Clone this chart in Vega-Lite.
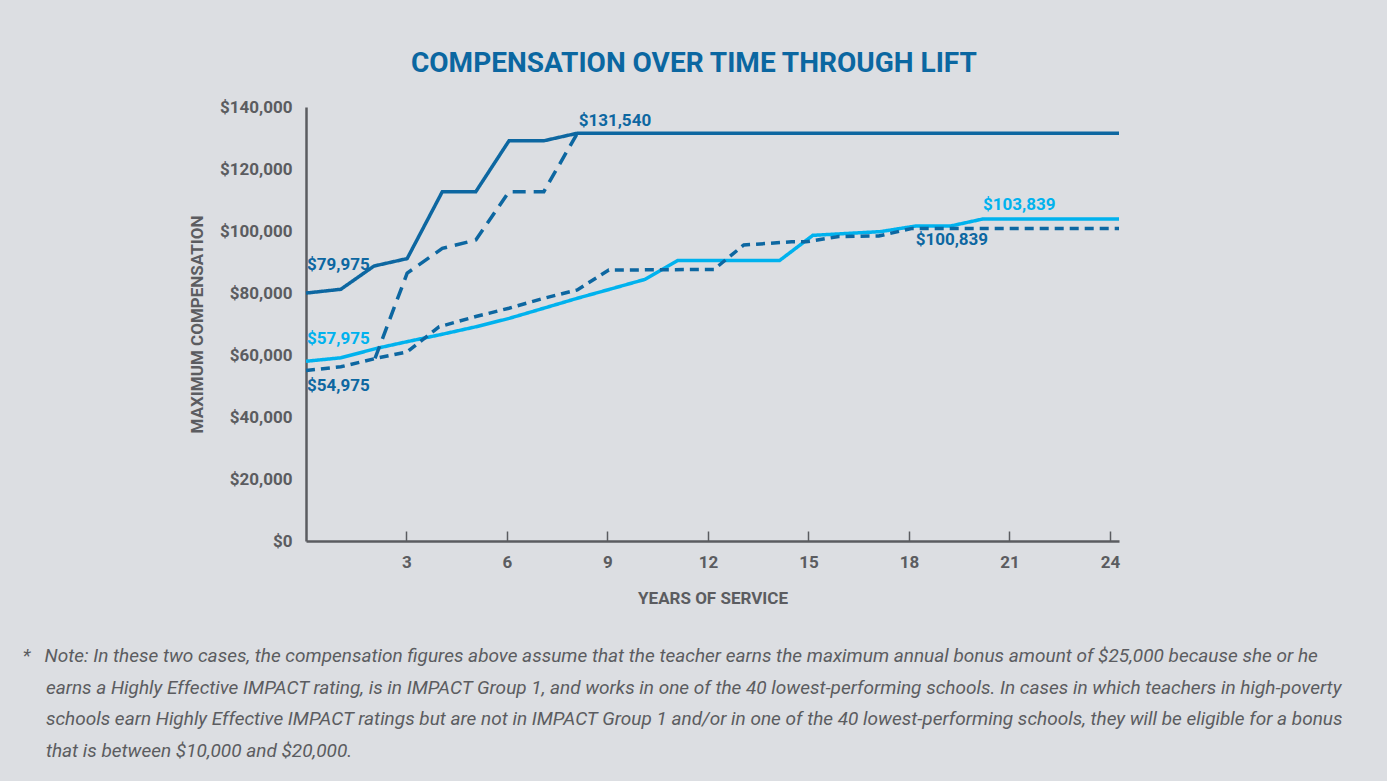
{
  "$schema": "https://vega.github.io/schema/vega-lite/v6.json",
  "background": "#dcdee2",
  "padding": {"left": 22, "top": 50, "right": 80, "bottom": 30},
  "title": {
    "text": "COMPENSATION OVER TIME THROUGH LIFT",
    "anchor": "middle",
    "fontSize": 28,
    "fontWeight": "bold",
    "font": "Roboto, Liberation Sans, sans-serif",
    "color": "#0b67a1",
    "offset": 20,
    "dx": 11
  },
  "datasets": {
    "lines": [
      {"s": "A", "year": 0, "v": 79975},
      {"s": "A", "year": 1.04, "v": 81200},
      {"s": "A", "year": 2.03, "v": 88700},
      {"s": "A", "year": 3.02, "v": 91100},
      {"s": "A", "year": 4.07, "v": 112700},
      {"s": "A", "year": 5.07, "v": 112700},
      {"s": "A", "year": 6.06, "v": 129100},
      {"s": "A", "year": 7.1, "v": 129100},
      {"s": "A", "year": 8.1, "v": 131540},
      {"s": "A", "year": 24.27, "v": 131540},
      {"s": "B", "year": 2.06, "v": 58900},
      {"s": "B", "year": 3.02, "v": 86400},
      {"s": "B", "year": 4.07, "v": 94400},
      {"s": "B", "year": 5.07, "v": 97100},
      {"s": "B", "year": 6.06, "v": 112700},
      {"s": "B", "year": 7.1, "v": 112700},
      {"s": "B", "year": 8.1, "v": 131540},
      {"s": "C", "year": 0, "v": 54975},
      {"s": "C", "year": 1.04, "v": 56200},
      {"s": "C", "year": 2.08, "v": 58900},
      {"s": "C", "year": 3.02, "v": 61000},
      {"s": "C", "year": 3.97, "v": 69100},
      {"s": "C", "year": 5.07, "v": 72400},
      {"s": "C", "year": 6.06, "v": 75100},
      {"s": "C", "year": 7.1, "v": 78300},
      {"s": "C", "year": 8.1, "v": 81000},
      {"s": "C", "year": 9.04, "v": 87400},
      {"s": "C", "year": 12.18, "v": 87600},
      {"s": "C", "year": 13.07, "v": 95500},
      {"s": "C", "year": 14.5, "v": 96500},
      {"s": "C", "year": 14.92, "v": 96500},
      {"s": "C", "year": 15.9, "v": 98200},
      {"s": "C", "year": 17.1, "v": 98400},
      {"s": "C", "year": 18.1, "v": 100839},
      {"s": "C", "year": 24.27, "v": 100839},
      {"s": "D", "year": 0, "v": 57975},
      {"s": "D", "year": 1.04, "v": 59100},
      {"s": "D", "year": 2.13, "v": 62200},
      {"s": "D", "year": 3.02, "v": 64300},
      {"s": "D", "year": 4.07, "v": 66700},
      {"s": "D", "year": 5.07, "v": 69100},
      {"s": "D", "year": 6.06, "v": 71800},
      {"s": "D", "year": 7.1, "v": 75100},
      {"s": "D", "year": 8.1, "v": 78300},
      {"s": "D", "year": 9.1, "v": 81300},
      {"s": "D", "year": 10.12, "v": 84400},
      {"s": "D", "year": 11.1, "v": 90500},
      {"s": "D", "year": 14.14, "v": 90500},
      {"s": "D", "year": 15.13, "v": 98600},
      {"s": "D", "year": 17.15, "v": 99800},
      {"s": "D", "year": 18.2, "v": 101600},
      {"s": "D", "year": 19.24, "v": 101600},
      {"s": "D", "year": 20.19, "v": 103839},
      {"s": "D", "year": 24.27, "v": 103839}
    ],
    "labels": [
      {"t": "$79,975", "year": 0.03, "v": 89000, "s": "A"},
      {"t": "$57,975", "year": 0.03, "v": 65200, "s": "D"},
      {"t": "$54,975", "year": 0.03, "v": 50000, "s": "C"},
      {"t": "$131,540", "year": 8.14, "v": 135400, "s": "A"},
      {"t": "$103,839", "year": 20.21, "v": 108400, "s": "D"},
      {"t": "$100,839", "year": 18.2, "v": 97100, "s": "C"}
    ]
  },
  "vconcat": [
    {
      "width": 813,
      "height": 434,
      "title": {
        "text": [
          "*\u00a0\u00a0\u00a0Note: In these two cases, the compensation figures above assume that the teacher earns the maximum annual bonus amount of $25,000 because she or he",
          "\u200b\u00a0\u00a0\u00a0\u00a0\u00a0earns a Highly Effective IMPACT rating, is in IMPACT Group 1, and works in one of the 40 lowest-performing schools. In cases in which teachers in high-poverty",
          "\u200b\u00a0\u00a0\u00a0\u00a0\u00a0schools earn Highly Effective IMPACT ratings but are not in IMPACT Group 1 and/or in one of the 40 lowest-performing schools, they will be eligible for a bonus",
          "\u200b\u00a0\u00a0\u00a0\u00a0\u00a0that is between $10,000 and $20,000."
        ],
        "orient": "bottom",
        "anchor": "start",
        "align": "left",
        "dx": -166,
        "offset": 41,
        "fontSize": 19,
        "fontStyle": "italic",
        "fontWeight": "normal",
        "font": "Roboto, Liberation Sans, sans-serif",
        "color": "#5b5c60",
        "lineHeight": 31.7
      },
      "layer": [
        {
          "data": {"name": "lines"},
          "transform": [{"filter": "datum.s === 'D'"}],
          "mark": {"type": "line", "strokeWidth": 3.5},
          "encoding": {
            "x": {"field": "year", "type": "quantitative"},
            "y": {"field": "v", "type": "quantitative"},
            "color": {"field": "s", "type": "nominal"},
            "strokeDash": {"field": "s", "type": "nominal"}
          }
        },
        {
          "data": {"name": "lines"},
          "transform": [{"filter": "datum.s !== 'D'"}],
          "mark": {"type": "line", "strokeWidth": 3.5},
          "encoding": {
            "x": {"field": "year", "type": "quantitative"},
            "y": {"field": "v", "type": "quantitative"},
            "color": {"field": "s", "type": "nominal"},
            "strokeDash": {"field": "s", "type": "nominal"}
          }
        },
        {
          "data": {"name": "labels"},
          "mark": {"type": "text", "align": "left", "baseline": "middle", "fontSize": 17, "fontWeight": "bold", "font": "Roboto, Liberation Sans, sans-serif"},
          "encoding": {
            "x": {"field": "year", "type": "quantitative"},
            "y": {"field": "v", "type": "quantitative"},
            "text": {"field": "t"},
            "color": {"field": "s", "type": "nominal"}
          }
        }
      ],
      "encoding": {
        "x": {
          "field": "year",
          "type": "quantitative",
          "scale": {"domain": [0, 24.27], "nice": false, "zero": false},
          "axis": {
            "title": "YEARS OF SERVICE",
            "values": [3, 6, 9, 12, 15, 18, 21, 24],
            "grid": false,
            "domainColor": "#5b5c60",
            "domainWidth": 2.5,
            "tickColor": "#5b5c60",
            "tickWidth": 1.5,
            "tickSize": -10,
            "labelPadding": 23,
            "labelFontSize": 17,
            "labelFontWeight": "bold",
            "labelColor": "#5b5c60",
            "titleFontSize": 17,
            "titleFontWeight": "bold",
            "titleColor": "#5b5c60",
            "titlePadding": 20
          }
        },
        "y": {
          "field": "v",
          "type": "quantitative",
          "scale": {"domain": [0, 140000], "nice": false},
          "axis": {
            "title": "MAXIMUM COMPENSATION",
            "values": [0, 20000, 40000, 60000, 80000, 100000, 120000, 140000],
            "format": "$,.0f",
            "grid": false,
            "ticks": false,
            "domainColor": "#5b5c60",
            "domainWidth": 2.5,
            "labelPadding": 14,
            "labelFontSize": 17,
            "labelFontWeight": "bold",
            "labelColor": "#5b5c60",
            "titleFontSize": 17,
            "titleFontWeight": "bold",
            "titleColor": "#5b5c60",
            "titlePadding": 13
          }
        },
        "color": {
          "field": "s",
          "type": "nominal",
          "scale": {"domain": ["A", "B", "C", "D"], "range": ["#0d67a1", "#0d67a1", "#0d67a1", "#00b2ee"]},
          "legend": null
        },
        "strokeDash": {
          "field": "s",
          "type": "nominal",
          "scale": {"domain": ["A", "B", "C", "D"], "range": [[1, 0], [13, 8], [9, 6], [1, 0]]},
          "legend": null
        }
      }
    }
  ],
  "config": {
    "view": {"stroke": null},
    "font": "Roboto, Liberation Sans, sans-serif",
    "axis": {"labelFont": "Roboto, Liberation Sans, sans-serif", "titleFont": "Roboto, Liberation Sans, sans-serif"}
  }
}
